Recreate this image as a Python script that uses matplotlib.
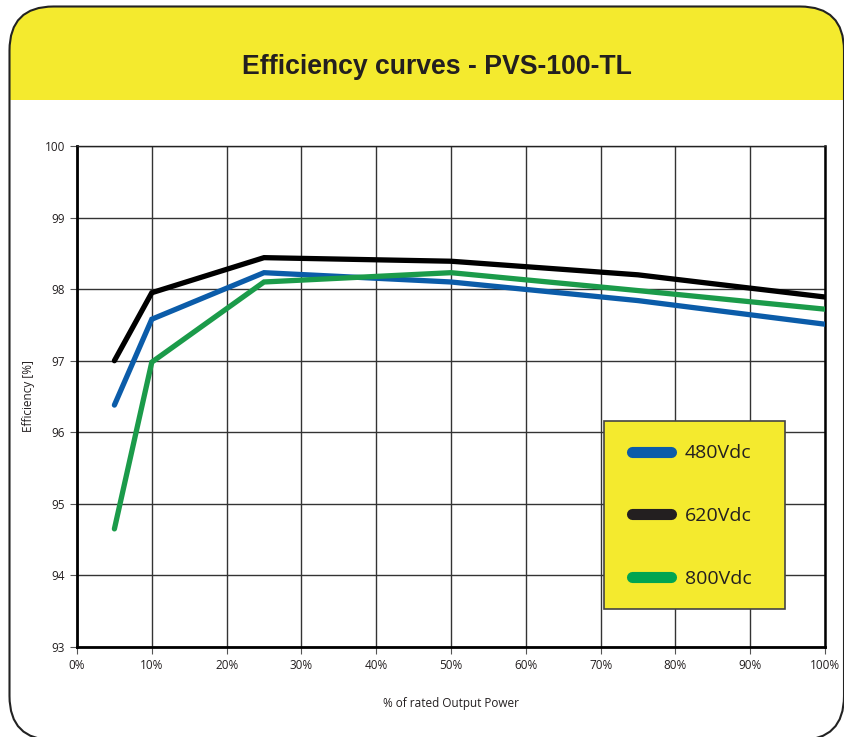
import matplotlib
matplotlib.use("Agg")
import matplotlib.pyplot as plt
from matplotlib.patches import FancyBboxPatch, Rectangle
from matplotlib.lines import Line2D

# ---- data ----
load_pct = [5, 10, 25, 50, 75, 100]
eff_480 = [96.38, 97.58, 98.23, 98.10, 97.84, 97.51]
eff_620 = [97.00, 97.95, 98.44, 98.39, 98.20, 97.89]
eff_800 = [94.65, 96.98, 98.10, 98.23, 97.98, 97.72]
series_labels = ["480Vdc", "620Vdc", "800Vdc"]
x_ticks = [0, 10, 20, 30, 40, 50, 60, 70, 80, 90, 100]
x_tick_labels = ["0%", "10%", "20%", "30%", "40%", "50%", "60%", "70%", "80%", "90%", "100%"]
y_ticks = [93, 94, 95, 96, 97, 98, 99, 100]
title = "Efficiency curves - PVS-100-TL"

W, H = 845, 737
fig = plt.figure(figsize=(W / 100, H / 100), dpi=100)
fig.patch.set_facecolor("white")

# background frame axes (pixel coords, y up)
bg = fig.add_axes([0, 0, 1, 1], zorder=0)
bg.set_xlim(0, W)
bg.set_ylim(0, H)
bg.axis("off")
YELLOW = "#f4ea2e"
frame_kw = dict(boxstyle="round,pad=0,rounding_size=44")
fx0, fx1, ftop, fbot = 9.5, 844, 6.5, 740   # top/bottom measured from image top
rect = ((fx0, H - fbot), fx1 - fx0, fbot - ftop)
yel = FancyBboxPatch(*rect, facecolor=YELLOW, edgecolor="none", **frame_kw)
bg.add_patch(yel)
clip = Rectangle((0, H - 100), W, 100, transform=bg.transData)
yel.set_clip_path(clip)
frame = FancyBboxPatch(*rect, facecolor="none", edgecolor="#222222",
                       linewidth=1.5, **frame_kw)
bg.add_patch(frame)
bg.text(437, H - 67, title, ha="center", va="center", fontsize=19.2, fontweight="bold",
        family=["Liberation Sans", "DejaVu Sans"], color="#231f20")

# main axes
ax = fig.add_axes([77 / W, 1 - 647 / H, 748 / W, 501 / H], zorder=2)
ax.set_facecolor("none")
lw = 3.8
ax.plot(load_pct, eff_480, color="#0b5ca9", lw=lw, solid_capstyle="round", solid_joinstyle="miter", zorder=3)
ax.plot(load_pct, eff_620, color="#000000", lw=lw, solid_capstyle="round", solid_joinstyle="miter", zorder=3)
ax.plot(load_pct, eff_800, color="#1b9b4a", lw=lw, solid_capstyle="round", solid_joinstyle="miter", zorder=3)

ax.set_xlim(0, 100)
ax.set_ylim(93, 100)
ax.set_xticks(x_ticks)
ax.set_xticklabels(x_tick_labels)
ax.set_yticks(y_ticks)
ax.grid(True, color="#333333", lw=1.0)
ax.set_axisbelow(True)
ax.spines["top"].set_linewidth(1.0)
ax.spines["top"].set_color("#222222")
ax.spines["right"].set_linewidth(1.8)
ax.spines["left"].set_linewidth(2.0)
ax.spines["bottom"].set_linewidth(2.0)
tick_font = ["Open Sans", "DejaVu Sans"]
ax.tick_params(axis="both", labelsize=8.5, color="#555555", width=0.8, length=5)
for lab in ax.get_xticklabels() + ax.get_yticklabels():
    lab.set_family(tick_font)
    lab.set_color("#231f20")
ax.set_xlabel("% of rated Output Power", fontsize=8.5, family=tick_font, labelpad=18, color="#231f20")
ax.set_ylabel("Efficiency [%]", fontsize=8.5, family=tick_font, labelpad=7, color="#231f20")

# legend box
box = Rectangle((0.7045, 0.0758), 0.242, 0.375, transform=ax.transAxes,
                facecolor=YELLOW, edgecolor="#444444", lw=1.2, zorder=4)
ax.add_patch(box)
handles = [Line2D([0], [0], color=c, lw=8, solid_capstyle="round")
           for c in ["#0b5ca9", "#231f20", "#00a551"]]
leg = ax.legend(handles, series_labels, loc="upper left", bbox_to_anchor=(0.732, 0.42),
                frameon=False, prop={"family": tick_font, "size": 14},
                handlelength=2.0, handletextpad=0.7, labelspacing=2.3, borderaxespad=0)
leg.set_zorder(5)
for t in leg.get_texts():
    t.set_color("#231f20")

fig.savefig("out.png", dpi=100)
